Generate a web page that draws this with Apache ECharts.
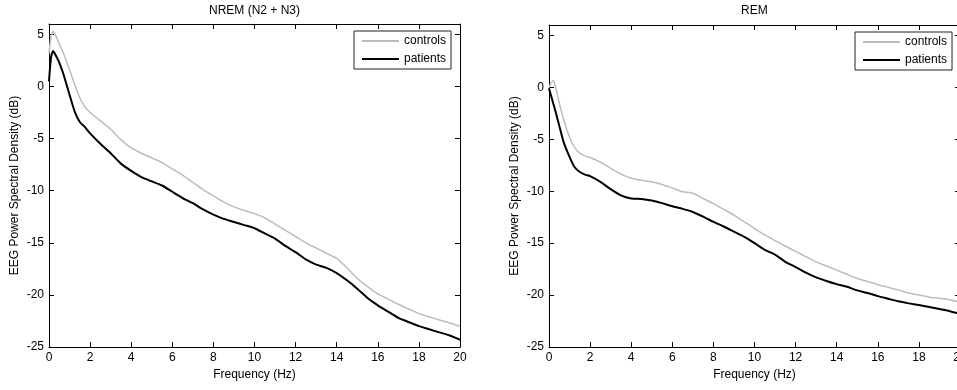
<!DOCTYPE html>
<html>
<head>
<meta charset="utf-8">
<script src="https://cdn.jsdelivr.net/npm/echarts@6/dist/echarts.min.js"></script>
<style>
  html, body { margin: 0; padding: 0; background: #fff; overflow: hidden; }
  #chart { width: 957px; height: 390px; }
</style>
</head>
<body>
<div id="chart"></div>
<script>
// frequency (Hz) sample points, shared by both panels
var freq = [0, 0.1, 0.2, 0.3, 0.5, 0.7, 1, 1.25, 1.5, 1.75, 2, 2.5, 3, 3.5, 4, 4.5, 5, 5.5, 6, 6.5,
    7, 7.5, 8, 8.5, 9, 9.5, 10, 10.5, 11, 11.5, 12, 12.5, 13, 13.5, 14, 14.5, 15, 15.5, 16, 16.5,
    17, 17.5, 18, 18.5, 19, 19.5, 20];

// NREM (N2 + N3), dB
var nremControls = [3.2, 4.8, 5.3, 5.0, 4.1, 3.2, 1.6, 0.2, -1.1, -1.95, -2.5, -3.3, -4.1, -5.1, -5.9, -6.4,
    -6.85, -7.3, -7.9, -8.5, -9.2, -9.9, -10.5, -11.1, -11.55, -11.9, -12.2, -12.6, -13.2, -13.8,
    -14.4, -15.0, -15.5, -16.0, -16.5, -17.4, -18.4, -19.2, -19.9, -20.4, -20.9, -21.35, -21.8,
    -22.1, -22.4, -22.7, -23.0];
var nremPatients = [0.5, 2.8, 3.4, 3.1, 2.3, 1.2, -0.8, -2.4, -3.4, -3.9, -4.5, -5.5, -6.4, -7.4, -8.1, -8.7,
    -9.1, -9.5, -10.1, -10.7, -11.2, -11.8, -12.3, -12.7, -13.0, -13.3, -13.6, -14.1, -14.6, -15.3,
    -15.9, -16.6, -17.1, -17.4, -17.9, -18.6, -19.4, -20.3, -21.0, -21.6, -22.2, -22.6, -23.0,
    -23.3, -23.6, -23.9, -24.3];

// REM, dB
var remControls = [0, 0.4, 0.65, 0.2, -1.5, -3.0, -4.8, -5.8, -6.35, -6.6, -6.75, -7.2, -7.8, -8.35, -8.75, -8.95,
    -9.1, -9.35, -9.7, -10.05, -10.2, -10.7, -11.2, -11.75, -12.3, -12.95, -13.6, -14.2, -14.75, -15.3,
    -15.8, -16.3, -16.8, -17.2, -17.6, -18.0, -18.4, -18.7, -19.0, -19.25, -19.5, -19.8, -20.0,
    -20.2, -20.3, -20.45, -20.7];
var remPatients = [-0.1, -0.8, -1.5, -2.2, -3.7, -5.2, -6.7, -7.7, -8.15, -8.4, -8.55, -9.1, -9.8, -10.4, -10.7, -10.75,
    -10.9, -11.15, -11.45, -11.7, -12.0, -12.45, -12.95, -13.4, -13.9, -14.4, -15.0, -15.65, -16.1, -16.8,
    -17.3, -17.85, -18.3, -18.65, -18.95, -19.2, -19.55, -19.8, -20.1, -20.35, -20.6, -20.8, -20.95,
    -21.15, -21.35, -21.55, -21.8];

var panelTitles = ["NREM (N2 + N3)", "REM"];
var seriesNames = ["controls", "patients"];
var yName = "EEG Power Spectral Density (dB)";
var xName = "Frequency (Hz)";

var FONT = "Liberation Sans, Arial, sans-serif";
var GRAY = "#bcbcbc";

function pairs(xs, ys) {
    var out = [];
    for (var i = 0; i < xs.length; i++) {
        out.push([xs[i], ys[i]]);
    }
    return out;
}

function xAx(grid, pos) {
    var main = pos == "bottom";
    return {
        type: "value", gridIndex: grid, position: pos,
        min: 0, max: 20, interval: 2,
        name: main ? xName : "", nameLocation: "middle", nameGap: 20,
        nameTextStyle: {color: "#000", fontFamily: FONT, fontSize: 12},
        axisLine: {onZero: false, lineStyle: {color: "#000", width: 1}},
        axisTick: {inside: true, length: 5, lineStyle: {color: "#000"}},
        axisLabel: {show: main, color: "#000", fontFamily: FONT, fontSize: 12, margin: 5},
        splitLine: {show: false}
    };
}

function yAx(grid, pos) {
    var main = pos == "left";
    return {
        type: "value", gridIndex: grid, position: pos,
        min: -25, max: 6, interval: 5,
        name: main ? yName : "", nameLocation: "middle", nameGap: 28,
        nameTextStyle: {color: "#000", fontFamily: FONT, fontSize: 12},
        axisLine: {onZero: false, lineStyle: {color: "#000", width: 1}},
        axisTick: {inside: true, length: 5, lineStyle: {color: "#000"}},
        axisLabel: {show: main, showMaxLabel: false, color: "#000", fontFamily: FONT, fontSize: 12, margin: 5},
        splitLine: {show: false}
    };
}

function line(name, grid, data, color, width) {
    return {
        name: name, type: "line", xAxisIndex: grid * 2, yAxisIndex: grid * 2,
        data: data, symbol: "none", smooth: 0.2, silent: true,
        itemStyle: {color: color},
        lineStyle: {color: color, width: width}
    };
}

function legend(left, top) {
    return {
        data: seriesNames, orient: "vertical", left: left, top: top,
        icon: "rect", itemWidth: 37, itemHeight: 2, itemGap: 4,
        padding: [3, 5, 3, 8],
        backgroundColor: "#fff", borderColor: "#222", borderWidth: 1,
        textStyle: {color: "#000", fontFamily: FONT, fontSize: 12, lineHeight: 14, padding: [0, 0, 0, 0]}
    };
}

var chart = echarts.init(document.getElementById("chart"));
chart.setOption({
    animation: false,
    title: [
        {text: panelTitles[0], left: 204, top: 0, textStyle: {color: "#000", fontFamily: FONT, fontSize: 12, fontWeight: "normal"}},
        {text: panelTitles[1], left: 736, top: 0, textStyle: {color: "#000", fontFamily: FONT, fontSize: 12, fontWeight: "normal"}}
    ],
    legend: [legend(354, 31), legend(855, 32)],
    grid: [
        {left: 49, top: 24, width: 411, height: 323, outerBoundsMode: "none"},
        {left: 549, top: 25, width: 411, height: 322, outerBoundsMode: "none"}
    ],
    xAxis: [xAx(0, "bottom"), xAx(0, "top"), xAx(1, "bottom"), xAx(1, "top")],
    yAxis: [yAx(0, "left"), yAx(0, "right"), yAx(1, "left"), yAx(1, "right")],
    series: [
        line(seriesNames[0], 0, pairs(freq, nremControls), GRAY, 1.5),
        line(seriesNames[1], 0, pairs(freq, nremPatients), "#000", 2),
        line(seriesNames[0], 1, pairs(freq, remControls), GRAY, 1.5),
        line(seriesNames[1], 1, pairs(freq, remPatients), "#000", 2)
    ]
});
</script>
</body>
</html>
